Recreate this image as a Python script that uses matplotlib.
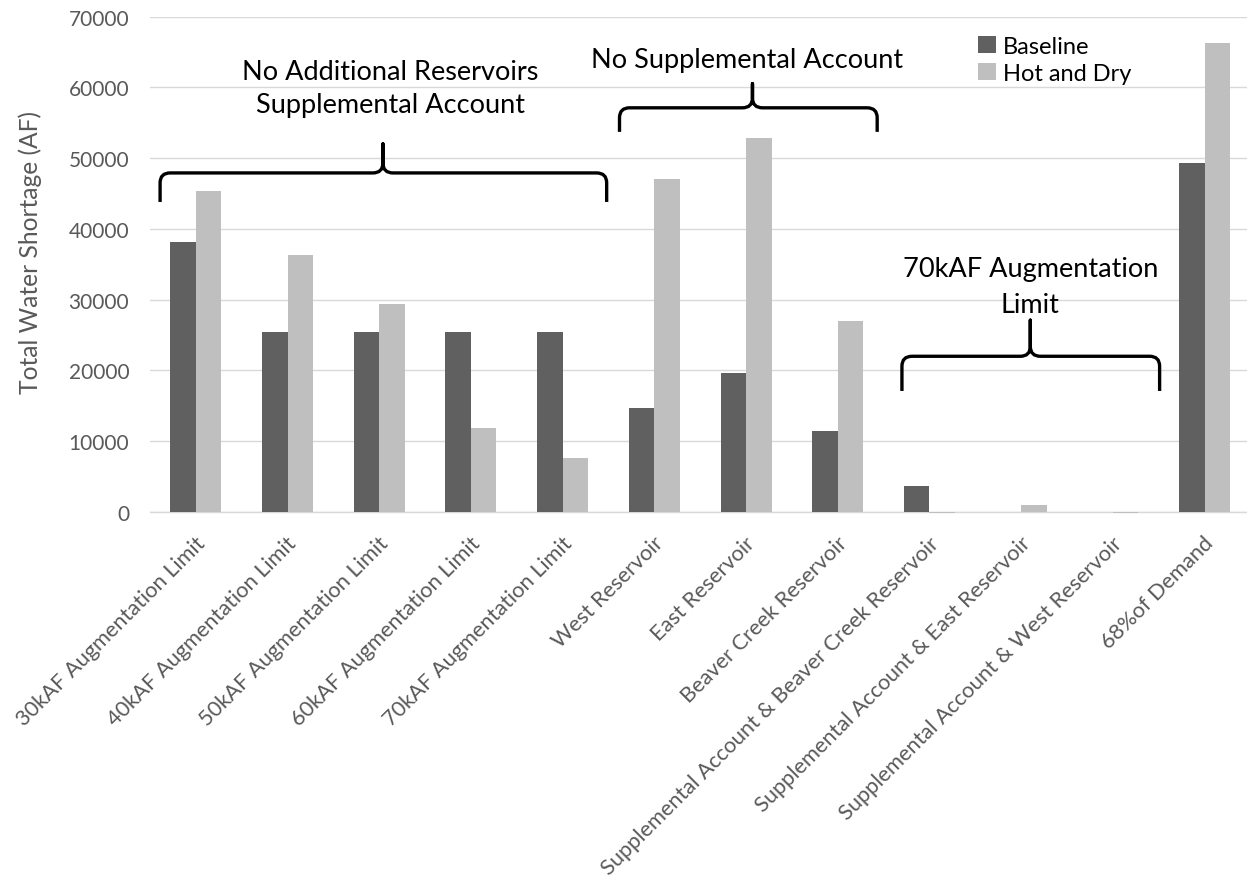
import matplotlib
matplotlib.use("Agg")
import matplotlib.pyplot as plt
import matplotlib.transforms as mtransforms
import numpy as np
from matplotlib.path import Path
from matplotlib.patches import PathPatch

plt.rcParams['font.family'] = ['Lato', 'DejaVu Sans']

categories = [
    "30kAF Augmentation Limit",
    "40kAF Augmentation Limit",
    "50kAF Augmentation Limit",
    "60kAF Augmentation Limit",
    "70kAF Augmentation Limit",
    "West Reservoir",
    "East Reservoir",
    "Beaver Creek Reservoir",
    "Supplemental Account & Beaver Creek Reservoir",
    "Supplemental Account & East Reservoir",
    "Supplemental Account & West Reservoir",
    "68%of Demand",
]
baseline = [38100, 25400, 25400, 25400, 25400, 14750, 19600, 11400, 3700, 0, 0, 49300]
hot_and_dry = [45300, 36300, 29400, 11900, 7600, 47100, 52900, 27000, -150, 1000, -150, 66200]
series_names = ["Baseline", "Hot and Dry"]
yticks = [0, 10000, 20000, 30000, 40000, 50000, 60000, 70000]

W, H = 1247, 879
fig = plt.figure(figsize=(W / 100, H / 100), dpi=100)
ax = fig.add_axes([150 / W, (H - 513) / H, 1097 / W, 495.5 / H])

x = np.arange(len(categories))
bw = 0.278
b1 = ax.bar(x - bw / 2, baseline, width=bw, color="#606060", zorder=3,
            clip_on=False, label=series_names[0])
b2 = ax.bar(x + bw / 2, hot_and_dry, width=bw, color="#bfbfbf", zorder=3,
            clip_on=False, label=series_names[1])

ax.set_xlim(-0.5, -0.5 + 1097 / 91.7)
ax.set_ylim(0, 70000)
ax.set_yticks(yticks)
ax.set_yticklabels([str(v) for v in yticks])
ax.yaxis.grid(True, color="#d9d9d9", linewidth=1.0, zorder=0)
ax.set_axisbelow(True)
for s in ["top", "right", "left"]:
    ax.spines[s].set_visible(False)
ax.spines["bottom"].set_color("#d9d9d9")
ax.spines["bottom"].set_linewidth(1.0)
ax.spines["bottom"].set_zorder(2)

ax.tick_params(axis="y", length=0, pad=15, labelsize=15, labelcolor="#595959")
ax.tick_params(axis="x", length=0, pad=20, labelsize=15.7, labelcolor="#595959")
ax.set_xticks(x)
ax.set_xticklabels(categories, rotation=45, ha="right", va="center",
                   rotation_mode="anchor")
shift = mtransforms.ScaledTranslation(6 / 100, 0, fig.dpi_scale_trans)
for lbl in ax.get_xticklabels():
    lbl.set_transform(lbl.get_transform() + shift)

ax.set_ylabel("Total Water Shortage (AF)", fontsize=17.7, color="#595959")
ax.yaxis.set_label_coords(-0.098, 0.526)

leg = fig.legend(handles=[b1, b2], labels=series_names, loc="upper left",
                 bbox_to_anchor=(978 / W, 1 - 37 / H), frameon=False,
                 fontsize=17, handlelength=0.75, handleheight=0.75,
                 handletextpad=0.3, labelspacing=0.25, borderpad=0,
                 borderaxespad=0)


def brace(x0, x1, xm, y_h, y_end, y_tip, rx=0.11, ry=1400):
    verts = [
        (x0, y_end), (x0, y_h - ry),
        (x0, y_h), (x0 + rx, y_h),
        (xm - rx, y_h),
        (xm, y_h), (xm, y_h + ry),
        (xm, y_tip),
        (xm, y_h + ry),
        (xm, y_h), (xm + rx, y_h),
        (x1 - rx, y_h),
        (x1, y_h), (x1, y_h - ry),
        (x1, y_end),
    ]
    codes = [
        Path.MOVETO, Path.LINETO,
        Path.CURVE3, Path.CURVE3,
        Path.LINETO,
        Path.CURVE3, Path.CURVE3,
        Path.LINETO,
        Path.LINETO,
        Path.CURVE3, Path.CURVE3,
        Path.LINETO,
        Path.CURVE3, Path.CURVE3,
        Path.LINETO,
    ]
    p = PathPatch(Path(verts, codes), facecolor="none", edgecolor="black",
                  linewidth=2.4, capstyle="butt", joinstyle="round",
                  zorder=5, clip_on=False)
    ax.add_patch(p)


brace(-0.39, 4.48, 2.04, 47900, 43800, 52000)
brace(4.62, 7.43, 6.07, 57100, 53700, 60500)
brace(7.70, 10.51, 9.10, 22000, 17100, 27100)

ax.text(2.12, 59900, "No Additional Reservoirs\nSupplemental Account",
        ha="center", va="center", fontsize=19.5, color="black",
        linespacing=1.42, zorder=6)
ax.text(6.01, 63900, "No Supplemental Account", ha="center", va="center",
        fontsize=19.5, color="black", zorder=6)
ax.text(9.10, 31800, "70kAF Augmentation\nLimit", ha="center", va="center",
        fontsize=19.5, color="black", linespacing=1.55, zorder=6)

fig.savefig("out.png", dpi=100)
